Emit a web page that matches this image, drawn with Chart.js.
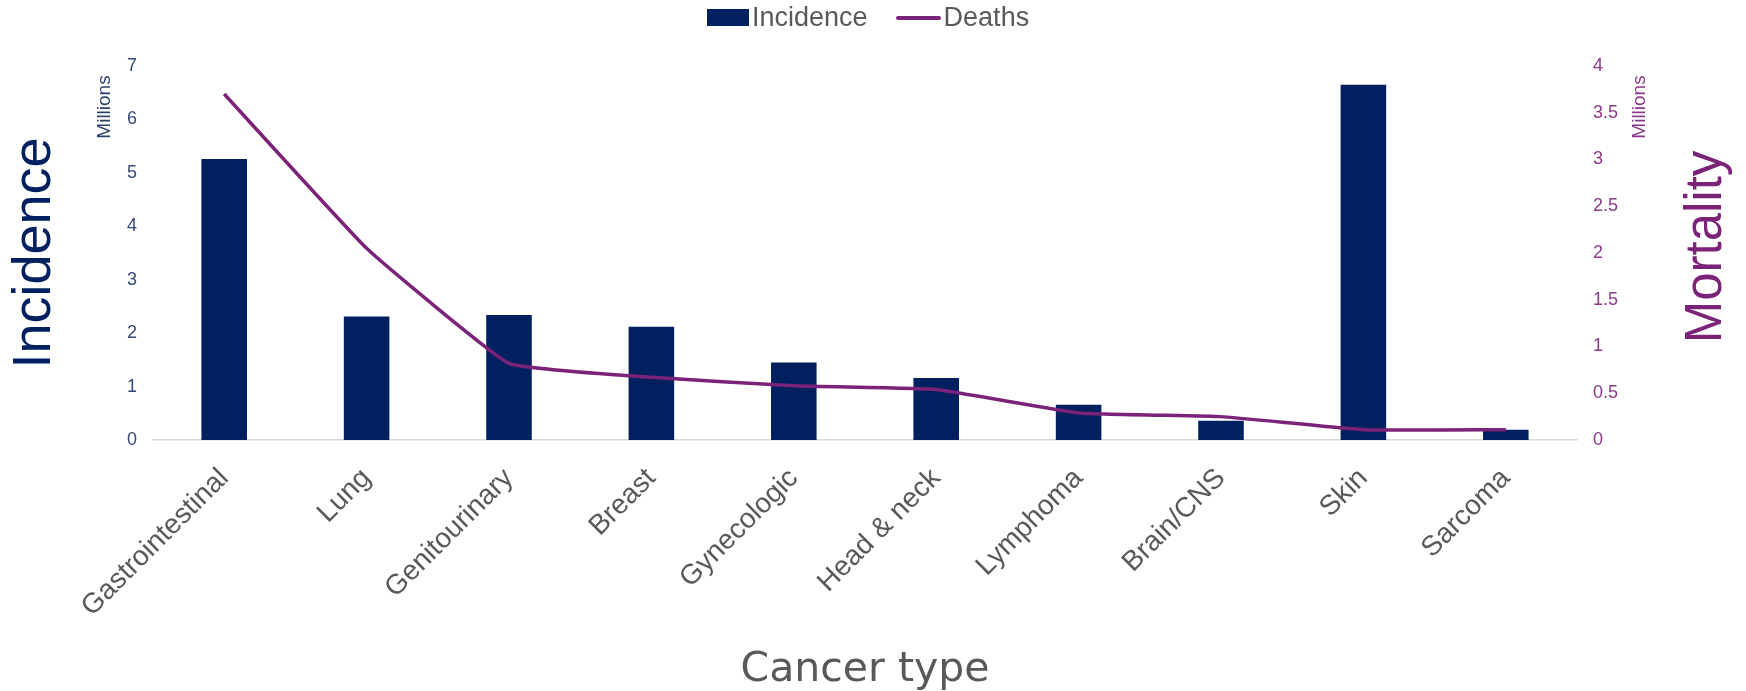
<!DOCTYPE html>
<html>
<head>
<meta charset="utf-8">
<title>Cancer incidence and mortality by type</title>
<script src="https://cdn.jsdelivr.net/npm/chart.js@4/dist/chart.umd.min.js"></script>
<style>
  html, body { margin: 0; padding: 0; background: #ffffff; }
  #wrap { position: relative; width: 1746px; height: 691px; }
  #legend {
    position: absolute; left: 707px; top: 0; height: 35px;
    display: flex; align-items: center;
    font-family: "Liberation Sans", Arial, sans-serif; font-size: 27px; color: #595959;
  }
  #legend .item { display: flex; align-items: center; margin-right: 28px; }
  #legend .swatch { margin-right: 3px; }
</style>
</head>
<body>
<div id="wrap">
  <canvas id="chart" width="1746" height="691"></canvas>
  <div id="legend"></div>
</div>
<script>
// Cancer types along the x axis
const categories = ['Gastrointestinal', 'Lung', 'Genitourinary', 'Breast', 'Gynecologic',
                    'Head & neck', 'Lymphoma', 'Brain/CNS', 'Skin', 'Sarcoma'];

// New cases per year, millions (left axis)
const incidence = [5.26, 2.31, 2.34, 2.12, 1.45, 1.16, 0.66, 0.36, 6.65, 0.19];

// Deaths per year, millions (right axis)
const deaths = [3.70, 2.05, 0.82, 0.67, 0.58, 0.54, 0.29, 0.25, 0.11, 0.11];

// Axis ranges and steps
const incidenceMax = 7, incidenceStep = 1;
const deathsMax = 4, deathsStep = 0.5;

const NAVY = '#002060';
const PURPLE = '#7B2378';
const GREY = '#595959';
const BASE_FONT = '"Liberation Sans", Arial, sans-serif';

// Rotated side captions ("Millions", "Mortality")
const sideText = {
  id: 'sideText',
  afterDraw(chart) {
    const ctx = chart.ctx;
    const a = chart.chartArea;
    const put = (text, x, y, font, color) => {
      ctx.save();
      ctx.translate(x, y);
      ctx.rotate(-Math.PI / 2);
      ctx.font = font;
      ctx.fillStyle = color;
      ctx.textAlign = 'center';
      ctx.textBaseline = 'middle';
      ctx.fillText(text, 0, 0);
      ctx.restore();
    };
    put('Millions', a.left - 48, a.top + 41, '19px ' + BASE_FONT, '#2B3F6E');
    put('Millions', a.right + 63, a.top + 41, '19px ' + BASE_FONT, '#8B3A8A');
    put('Mortality', a.right + 130, a.top + 181, '51px ' + BASE_FONT, PURPLE);
  }
};

const chart = new Chart(document.getElementById('chart'), {
  data: {
    labels: categories,
    datasets: [
      {
        type: 'line',
        label: 'Deaths',
        data: deaths,
        yAxisID: 'yDeaths',
        borderColor: PURPLE,
        backgroundColor: PURPLE,
        borderWidth: 3.5,
        pointRadius: 0,
        tension: 0.1,
        order: 0
      },
      {
        type: 'bar',
        label: 'Incidence',
        data: incidence,
        yAxisID: 'yIncidence',
        backgroundColor: NAVY,
        barPercentage: 0.32,
        categoryPercentage: 1.0,
        order: 1
      }
    ]
  },
  plugins: [sideText],
  options: {
    responsive: false,
    animation: false,
    layout: { padding: { top: 66, left: 0, right: 0, bottom: 0 } },
    plugins: {
      legend: { display: false },
      tooltip: { enabled: false }
    },
    scales: {
      x: {
        grid: { display: false, drawTicks: false },
        border: { display: true, color: '#D9D9D9', width: 1.5 },
        ticks: {
          minRotation: 45, maxRotation: 45, autoSkip: false,
          color: GREY, padding: 22,
          font: { family: BASE_FONT, size: 28 }
        },
        title: {
          display: true, text: 'Cancer type', color: GREY,
          font: { family: '"DejaVu Sans", sans-serif', size: 41 },
          padding: { top: 0, bottom: -4 }
        },
        afterFit(scale) { scale.height = 251; }
      },
      yIncidence: {
        position: 'left',
        min: 0, max: incidenceMax,
        grid: { display: false, drawTicks: false },
        border: { display: false },
        ticks: {
          stepSize: incidenceStep, color: '#34497A', padding: 16,
          font: { family: BASE_FONT, size: 18 }
        },
        title: {
          display: true, text: 'Incidence', color: NAVY,
          font: { family: BASE_FONT, size: 54 },
          padding: { top: 3, bottom: 0 }
        },
        afterFit(scale) { scale.width = 153; }
      },
      yDeaths: {
        position: 'right',
        min: 0, max: deathsMax,
        grid: { display: false, drawTicks: false },
        border: { display: false },
        ticks: {
          stepSize: deathsStep, color: '#8B3A8A', padding: 16,
          font: { family: BASE_FONT, size: 18 },
          callback: v => String(Number(v.toFixed(1)))
        },
        afterFit(scale) { scale.width = 169; }
      }
    }
  }
});

// Legend built from the chart's own datasets, bar first
const legendEl = document.getElementById('legend');
['Incidence', 'Deaths'].forEach(name => {
  const ds = chart.data.datasets.find(d => d.label === name);
  const item = document.createElement('div');
  item.className = 'item';
  const sw = document.createElement('span');
  sw.className = 'swatch';
  if (ds.type === 'bar') {
    sw.style.cssText = 'display:inline-block;width:42px;height:17px;background:' + ds.backgroundColor;
  } else {
    sw.style.cssText = 'display:inline-block;width:45px;height:4px;border-radius:2px;background:' + ds.borderColor;
  }
  const tx = document.createElement('span');
  tx.textContent = ds.label;
  item.appendChild(sw);
  item.appendChild(tx);
  legendEl.appendChild(item);
});
</script>
</body>
</html>
